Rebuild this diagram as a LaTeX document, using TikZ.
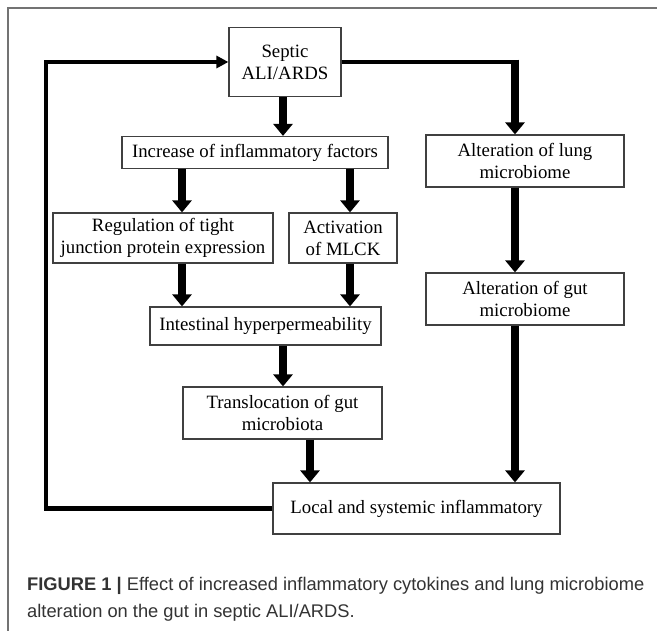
\documentclass[tikz,border=0pt]{standalone}
\usepackage{fontspec}
\setmainfont{Liberation Serif}
\newfontfamily\capfont{Liberation Sans}
\usetikzlibrary{arrows.meta,calc}
\begin{document}
\begin{tikzpicture}[x=1pt,y=-1pt,
  box/.style={draw=black!75, line width=1.2pt, inner sep=0pt, align=center,
    font=\fontsize{18.8}{22}\selectfont},
  bigarrow/.style={line width=8.5pt, -{Triangle[width=19pt,length=12pt]}},
  thinline/.style={line width=4.5pt, line join=miter},
  smallarrow/.style={line width=4.5pt, line join=miter, -{Triangle[width=12pt,length=12pt]}},
  captext/.style={anchor=west, inner sep=0pt, text=black!80,
    font=\capfont\fontsize{18.3}{27}\selectfont}]
\useasboundingbox (0,0) rectangle (657,631);
\fill[white] (0,0) rectangle (657,631);
% frame
\draw[black!55, line width=1.2pt] (8,640) -- (8,8) -- (665,8);

% boxes
\node[box, minimum width=112pt, minimum height=69pt] (septic) at (285,62) {Septic\\ALI/ARDS};
\node[box, minimum width=266pt, minimum height=32pt] (increase) at (255,152.5) {Increase of inflammatory factors};
\node[box, minimum width=198pt, minimum height=52pt] (lung) at (525,161) {Alteration of lung\\microbiome};
\node[box, minimum width=220pt, minimum height=50pt] (regulation) at (163,238) {Regulation of tight\\junction protein expression};
\node[box, minimum width=108pt, minimum height=50pt] (activation) at (343,238) {Activation\\of MLCK};
\node[box, minimum width=231pt, minimum height=38pt] (intestinal) at (265.5,326) {Intestinal hyperpermeability};
\node[box, minimum width=198pt, minimum height=52pt] (gut) at (525,299) {Alteration of gut\\microbiome};
\node[box, minimum width=199pt, minimum height=52pt] (transloc) at (282.5,413) {Translocation of gut\\microbiota};
\node[box, minimum width=287pt, minimum height=51pt] (local) at (416.5,508.5) {Local and systemic inflammatory};

% column coordinates
\coordinate (cL) at (182,0);
\coordinate (cR) at (350,0);
\coordinate (cM) at (283,0);
\coordinate (cT) at (310,0);
\coordinate (cG) at (515,0);
\coordinate (cF) at (46,0);
\coordinate (corner) at (519.25,62);

% arrows
\draw[bigarrow] (cM |- septic.south) -- (cM |- increase.north);
\draw[bigarrow] (cL |- increase.south) -- (cL |- regulation.north);
\draw[bigarrow] (cR |- increase.south) -- (cR |- activation.north);
\draw[bigarrow] (cL |- regulation.south) -- (cL |- intestinal.north);
\draw[bigarrow] (cR |- activation.south) -- (cR |- intestinal.north);
\draw[bigarrow] (cM |- intestinal.south) -- (cM |- transloc.north);
\draw[bigarrow] (cT |- transloc.south) -- (cT |- local.north);
\draw[bigarrow] (cG |- lung.south) -- (cG |- gut.north);
\draw[bigarrow] (cG |- gut.south) -- (cG |- local.north);

% septic -> lung
\draw[thinline] (septic.east) -- (corner);
\draw[bigarrow] ($(cG |- septic.east)+(0,-2.25)$) -- (cG |- lung.north);

% feedback
\draw[smallarrow] (local.west) -| (cF |- septic.west) -- (septic.west);

% caption
\node[captext] (cap1) at (27,586) {\textbf{FIGURE 1 |} Effect of increased inflammatory cytokines and lung microbiome};
\node[captext] (cap2) at (27,613) {alteration on the gut in septic ALI/ARDS.};
\end{tikzpicture}
\end{document}
